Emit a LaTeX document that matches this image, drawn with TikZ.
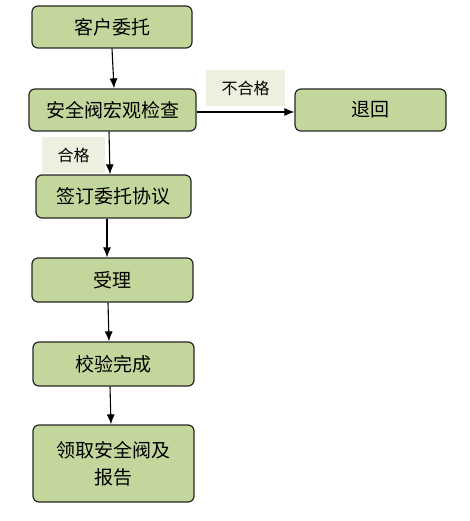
\documentclass[tikz,border=0pt]{standalone}
\usepackage{fontspec}
\usepackage{xcolor}
\usepackage{tikz}
\usetikzlibrary{positioning,arrows.meta}
\newfontfamily\cjk{Noto Sans CJK SC}
\definecolor{boxgreen}{HTML}{C3D69B}
\definecolor{tagbg}{HTML}{EBF1DE}

\begin{document}
\begin{tikzpicture}[
  x=1pt, y=-1pt,
  flowbox/.style={draw=black!85, fill=boxgreen, rounded corners=6pt, line width=1.2pt,
    minimum height=42pt, inner sep=0pt, align=center,
    font=\cjk\fontsize{19}{27}\selectfont},
  tag/.style={fill=tagbg, minimum width=79pt, minimum height=36pt, inner sep=0pt,
    font=\cjk\fontsize{16}{18}\selectfont},
  flow/.style={-{Latex[length=10pt,width=8pt]}, line width=1.1pt},
  >=Latex, color=black
]
\useasboundingbox (0,0) rectangle (470,521);

\node[flowbox, minimum width=160pt] (client) at (112,27) {客户委托};
\node[flowbox, minimum width=167pt] (inspect) at (112.5,110) {安全阀宏观检查};
\node[flowbox, minimum width=151pt] (reject) at (370.5,110) {退回};
\node[flowbox, minimum width=155pt, minimum height=43pt] (sign) at (113.5,196.5) {签订委托协议};
\node[flowbox, minimum width=161pt, minimum height=44pt] (accept) at (112.5,280) {受理};
\node[flowbox, minimum width=161pt, minimum height=44pt] (verify) at (113.5,364) {校验完成};
\node[flowbox, minimum width=161pt, minimum height=77pt, text width=124pt] (collect) at (113.5,463.5) {领取安全阀及\\报告};

% condition tags
\node[tag] (fail) at (245.5,88) {不合格};
\node[tag, minimum width=63pt] (pass) at (73.5,155) {合格};

\draw[flow] (client.south) -- ([xshift=1.5pt]inspect.north);
\draw[flow] ([yshift=-2pt]inspect.east) -- ([yshift=-2pt]reject.west);
\draw[flow] ([xshift=-3.5pt]inspect.south) -- ([xshift=-3.5pt]sign.north);
\draw[flow] ([xshift=-6.5pt]sign.south) -- ([xshift=-5.5pt]accept.north);
\draw[flow] ([xshift=-4.5pt]accept.south) -- ([xshift=-4.5pt]verify.north);
\draw[flow] ([xshift=-3.5pt]verify.south) -- ([xshift=-2.5pt]collect.north);
\end{tikzpicture}
\end{document}
